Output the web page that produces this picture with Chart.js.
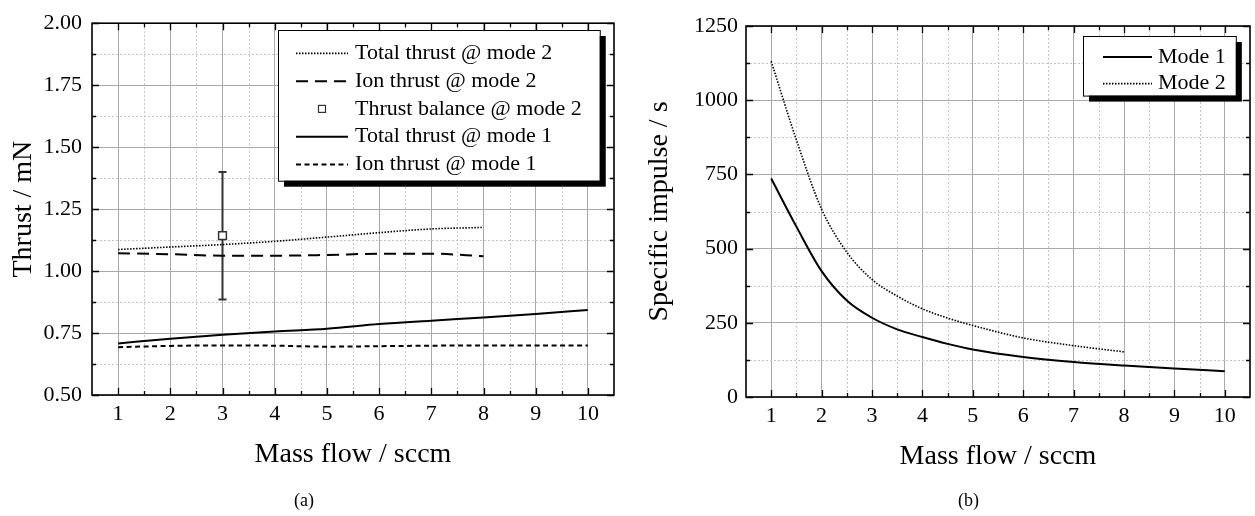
<!DOCTYPE html>
<html><head><meta charset="utf-8">
<script src="https://cdn.jsdelivr.net/npm/chart.js@4/dist/chart.umd.min.js"></script>
<style>
html,body{margin:0;padding:0;background:#fff;}
#wrap{position:relative;width:1255px;height:516px;overflow:hidden;}
#c1{position:absolute;left:0;top:0;}
#c2{position:absolute;left:630px;top:0;}
.cap{position:absolute;top:490px;font-family:"Liberation Serif","DejaVu Serif",serif;font-size:18px;color:#000;}
</style></head><body>
<div id="wrap">
<canvas id="c1" width="630" height="516"></canvas>
<canvas id="c2" width="625" height="516"></canvas>
<div class="cap" style="left:294px">(a)</div>
<div class="cap" style="left:958px">(b)</div>
</div>
<script>
// ---------- data ----------
const massFlowMode1 = [1, 2, 3, 4, 5, 6, 7, 8, 9, 10];
const massFlowMode2 = [1, 2, 3, 4, 5, 6, 7, 8];
const totalThrustMode2 = [1.087, 1.097, 1.107, 1.120, 1.137, 1.155, 1.170, 1.176];
const ionThrustMode2 = [1.072, 1.068, 1.062, 1.062, 1.065, 1.070, 1.070, 1.060];
const balanceFlow = [3];
const balanceThrust = [1.143];
const balanceErrLow = [0.885];
const balanceErrHigh = [1.400];
const totalThrustMode1 = [0.708, 0.727, 0.743, 0.756, 0.767, 0.786, 0.800, 0.813, 0.827, 0.843];
const ionThrustMode1 = [0.693, 0.698, 0.700, 0.699, 0.695, 0.697, 0.699, 0.700, 0.700, 0.700];

// specific impulse curves, read at finer steps where they bend
const ispFlowMode1 = [1, 1.5, 2, 2.5, 3, 3.5, 4, 4.5, 5, 6, 7, 8, 9, 10];
const ispMode1 = [736, 574, 424, 325, 267, 228, 202, 179, 160, 135, 118, 106, 96, 87];
const ispFlowMode2 = [1, 1.5, 2, 2.5, 3, 3.5, 4, 4.5, 5, 6, 7, 8];
const ispMode2 = [1131, 866, 633, 488, 396, 340, 297, 266, 241, 199, 173, 152];

const xTicks = [1, 2, 3, 4, 5, 6, 7, 8, 9, 10];
const xMinorTicks = [1.5, 2.5, 3.5, 4.5, 5.5, 6.5, 7.5, 8.5, 9.5];
const thrustTicks = [0.50, 0.75, 1.00, 1.25, 1.50, 1.75, 2.00];
const thrustMinorTicks = [0.625, 0.875, 1.125, 1.375, 1.625, 1.875];
const ispTicks = [0, 250, 500, 750, 1000, 1250];
const ispMinorTicks = [125, 375, 625, 875, 1125];

const labelsLeft = ['Total thrust @ mode 2', 'Ion thrust @ mode 2', 'Thrust balance @ mode 2', 'Total thrust @ mode 1', 'Ion thrust @ mode 1'];
const labelsRight = ['Mode 1', 'Mode 2'];
const xTitle = 'Mass flow / sccm';
const yTitleLeft = 'Thrust / mN';
const yTitleRight = 'Specific impulse / s';

// ---------- helpers ----------
const serif = '"Liberation Serif", "Times New Roman", serif';
Chart.defaults.font.family = serif;
Chart.defaults.color = '#000';
const pts = (xs, ys) => xs.map((x, i) => ({x: x, y: ys[i]}));

const framePlugin = {
  id: 'frame',
  beforeDatasetsDraw(chart, args, o) {
    const {ctx, chartArea: a} = chart;
    const x = chart.scales.x, y = chart.scales.y;
    ctx.save();
    ctx.strokeStyle = '#c4c4c4'; ctx.lineWidth = 1; ctx.setLineDash([2, 2]);
    o.xMinor.forEach(v => { const p = Math.round(x.getPixelForValue(v)) + 0.5; ctx.beginPath(); ctx.moveTo(p, a.top); ctx.lineTo(p, a.bottom); ctx.stroke(); });
    o.yMinor.forEach(v => { const p = Math.round(y.getPixelForValue(v)) + 0.5; ctx.beginPath(); ctx.moveTo(a.left, p); ctx.lineTo(a.right, p); ctx.stroke(); });
    ctx.setLineDash([]);
    if (o.errors) {
      const e = o.errors;
      ctx.strokeStyle = '#333'; ctx.lineWidth = 2;
      e.x.forEach((xv, i) => {
        const px = x.getPixelForValue(xv), pl = y.getPixelForValue(e.low[i]), ph = y.getPixelForValue(e.high[i]);
        ctx.beginPath(); ctx.moveTo(px, pl); ctx.lineTo(px, ph);
        ctx.moveTo(px - 4, pl); ctx.lineTo(px + 4, pl);
        ctx.moveTo(px - 4, ph); ctx.lineTo(px + 4, ph);
        ctx.stroke();
      });
    }
    ctx.restore();
  },
  afterDraw(chart, args, o) {
    const {ctx, chartArea: a} = chart;
    const x = chart.scales.x, y = chart.scales.y;
    ctx.save();
    ctx.strokeStyle = '#000'; ctx.lineWidth = 1.3;
    const tick = (vals, len, isX) => vals.forEach(v => {
      if (isX) {
        const p = Math.round(x.getPixelForValue(v)) + 0.5;
        ctx.beginPath(); ctx.moveTo(p, a.bottom); ctx.lineTo(p, a.bottom - len);
        ctx.moveTo(p, a.top); ctx.lineTo(p, a.top + len); ctx.stroke();
      } else {
        const p = Math.round(y.getPixelForValue(v)) + 0.5;
        ctx.beginPath(); ctx.moveTo(a.left, p); ctx.lineTo(a.left + len, p);
        ctx.moveTo(a.right, p); ctx.lineTo(a.right - len, p); ctx.stroke();
      }
    });
    tick(o.xMajor, 7, true); tick(o.xMinor, 4, true);
    tick(o.yMajor, 7, false); tick(o.yMinor, 4, false);
    ctx.lineWidth = 1.6;
    ctx.strokeRect(a.left, a.top, a.right - a.left, a.bottom - a.top);

    // legend
    const L = o.legend;
    const items = chart.data.datasets;
    ctx.font = L.size + 'px ' + serif;
    const tw = Math.max(...items.map(d => ctx.measureText(d.label).width));
    const w = L.textOffset + tw + L.padRight;
    const h = L.firstRow + (items.length - 1) * L.rowGap + L.padBottom;
    const bx = Math.round(a.right - L.insetRight - w), by = Math.round(a.top + L.insetTop);
    ctx.fillStyle = '#000'; ctx.fillRect(bx + L.shadow, by + L.shadow, w, h);
    ctx.fillStyle = '#fff'; ctx.fillRect(bx, by, w, h);
    ctx.strokeStyle = '#000'; ctx.lineWidth = 1; ctx.strokeRect(bx + 0.5, by + 0.5, w, h);
    items.forEach((d, i) => {
      const ry = by + L.firstRow + i * L.rowGap;
      if (d.showLine === false) {
        const cx = bx + L.sampleX + L.sampleLen / 2;
        ctx.fillStyle = '#fff'; ctx.strokeStyle = d.borderColor; ctx.lineWidth = 1.2; ctx.setLineDash([]);
        ctx.fillRect(cx - 3.5, ry - 3.5, 7, 7); ctx.strokeRect(cx - 3.5, ry - 3.5, 7, 7);
      } else {
        ctx.strokeStyle = d.borderColor; ctx.lineWidth = d.borderWidth; ctx.setLineDash(d.borderDash || []);
        ctx.beginPath(); ctx.moveTo(bx + L.sampleX, ry); ctx.lineTo(bx + L.sampleX + L.sampleLen, ry); ctx.stroke();
        ctx.setLineDash([]);
      }
      ctx.fillStyle = '#000'; ctx.textBaseline = 'middle'; ctx.textAlign = 'left';
      ctx.fillText(d.label, bx + L.textOffset, ry);
    });
    ctx.restore();
  }
};

function makeScales(cfg) {
  return {
    x: {
      type: 'linear', min: 0.5, max: 10.5,
      afterBuildTicks: s => { s.ticks = cfg.xMajor.map(v => ({value: v})); },
      afterFit: s => { s.height = cfg.xHeight; },
      ticks: {font: {size: 22}, padding: cfg.xTickPad, maxRotation: 0, autoSkip: false, callback: v => String(v)},
      grid: {color: '#a9a9a9', lineWidth: 1, drawTicks: false},
      border: {display: false},
      title: {display: true, text: xTitle, font: {size: 28}, padding: {top: 0, bottom: cfg.xTitlePad}}
    },
    y: {
      type: 'linear', min: cfg.yMin, max: cfg.yMax,
      afterBuildTicks: s => { s.ticks = cfg.yMajor.map(v => ({value: v})); },
      afterFit: s => { s.width = cfg.yWidth; },
      ticks: {font: {size: 22}, padding: cfg.yTickPad, autoSkip: false, callback: cfg.yFmt},
      grid: {color: '#a9a9a9', lineWidth: 1, drawTicks: false},
      border: {display: false},
      title: {display: true, text: cfg.yTitle, font: {size: 28}, padding: {top: cfg.yTitlePad, bottom: 0}}
    }
  };
}

// ---------- left chart ----------
new Chart(document.getElementById('c1'), {
  type: 'line',
  data: {
    datasets: [
      {label: labelsLeft[0], data: pts(massFlowMode2, totalThrustMode2), borderColor: '#000', borderWidth: 1.6, borderDash: [1.5, 1.5], pointRadius: 0, cubicInterpolationMode: 'monotone'},
      {label: labelsLeft[1], data: pts(massFlowMode2, ionThrustMode2), borderColor: '#000', borderWidth: 2, borderDash: [12, 7], pointRadius: 0, cubicInterpolationMode: 'monotone'},
      {label: labelsLeft[2], data: pts(balanceFlow, balanceThrust), showLine: false, borderColor: '#333', backgroundColor: '#fff', borderWidth: 1.5, pointStyle: 'rect', pointRadius: 5.5},
      {label: labelsLeft[3], data: pts(massFlowMode1, totalThrustMode1), borderColor: '#000', borderWidth: 2, pointRadius: 0, cubicInterpolationMode: 'monotone'},
      {label: labelsLeft[4], data: pts(massFlowMode1, ionThrustMode1), borderColor: '#000', borderWidth: 2, borderDash: [5, 3.5], pointRadius: 0, cubicInterpolationMode: 'monotone'}
    ]
  },
  options: {
    responsive: false, animation: false, events: [],
    layout: {padding: {top: 11, right: 16, left: 0, bottom: 0}},
    scales: makeScales({xMajor: xTicks, xHeight: 121, xTickPad: 6, xTitlePad: 45,
      yMin: 0.5, yMax: 2.0, yMajor: thrustTicks, yWidth: 92, yTickPad: 10, yTitle: yTitleLeft, yTitlePad: 7,
      yFmt: v => Number(v).toFixed(2)}),
    plugins: {
      legend: {display: false}, tooltip: {enabled: false},
      frame: {xMajor: xTicks, xMinor: xMinorTicks, yMajor: thrustTicks, yMinor: thrustMinorTicks,
        errors: {x: balanceFlow, low: balanceErrLow, high: balanceErrHigh},
        legend: {size: 22, insetRight: 14, insetTop: 7, firstRow: 23.4, rowGap: 27.75, padBottom: 16.3,
          sampleX: 18, sampleLen: 52, textOffset: 77, padRight: 18, shadow: 6}}
    }
  },
  plugins: [framePlugin]
});

// ---------- right chart ----------
new Chart(document.getElementById('c2'), {
  type: 'line',
  data: {
    datasets: [
      {label: labelsRight[0], data: pts(ispFlowMode1, ispMode1), borderColor: '#000', borderWidth: 2, pointRadius: 0, cubicInterpolationMode: 'monotone'},
      {label: labelsRight[1], data: pts(ispFlowMode2, ispMode2), borderColor: '#000', borderWidth: 1.6, borderDash: [1.5, 1.5], pointRadius: 0, cubicInterpolationMode: 'monotone'}
    ]
  },
  options: {
    responsive: false, animation: false, events: [],
    layout: {padding: {top: 26, right: 5, left: 0, bottom: 0}},
    scales: makeScales({xMajor: xTicks, xHeight: 119, xTickPad: 6, xTitlePad: 43,
      yMin: 0, yMax: 1250, yMajor: ispTicks, yWidth: 116, yTickPad: 8, yTitle: yTitleRight, yTitlePad: 13,
      yFmt: v => String(v)}),
    plugins: {
      legend: {display: false}, tooltip: {enabled: false},
      frame: {xMajor: xTicks, xMinor: xMinorTicks, yMajor: ispTicks, yMinor: ispMinorTicks,
        legend: {size: 22, insetRight: 14, insetTop: 9.5, firstRow: 21, rowGap: 26.6, padBottom: 12,
          sampleX: 20, sampleLen: 49, textOffset: 75, padRight: 10, shadow: 6}}
    }
  },
  plugins: [framePlugin]
});
</script>
</body></html>
